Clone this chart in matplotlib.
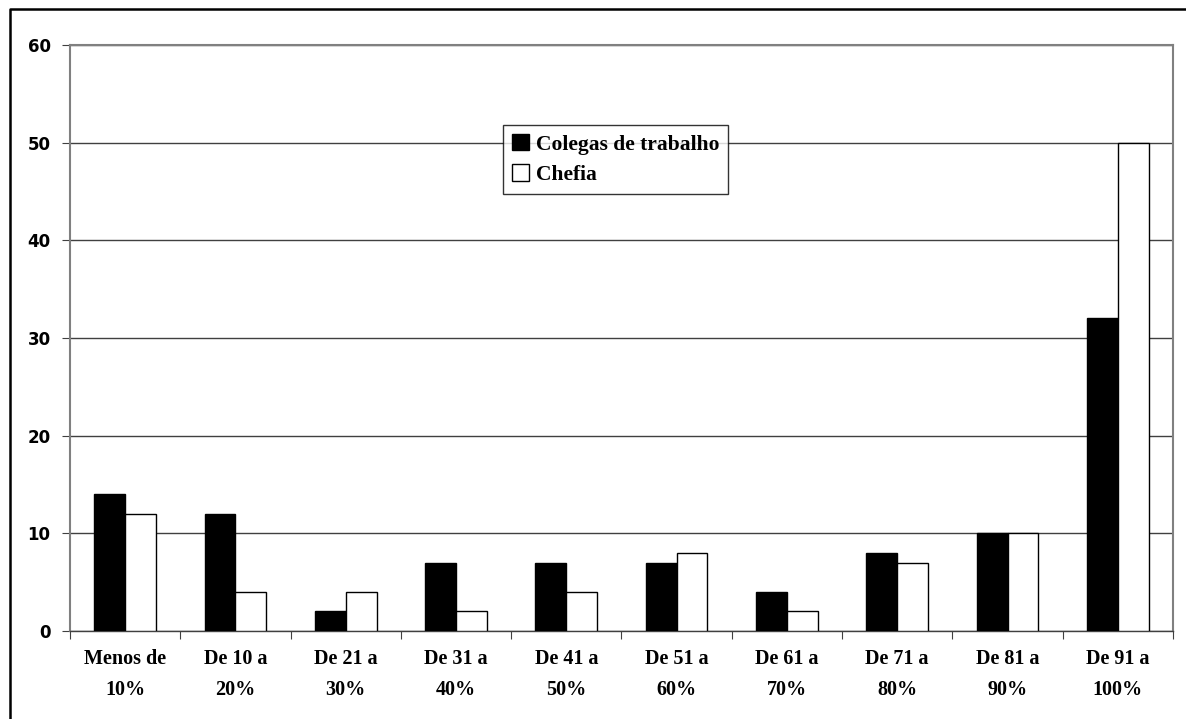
import numpy as np
import matplotlib.pyplot as plt
from matplotlib.lines import Line2D

# Dados do gráfico
categorias = ['Menos de\n10%', 'De 10 a\n20%', 'De 21 a\n30%', 'De 31 a\n40%',
              'De 41 a\n50%', 'De 51 a\n60%', 'De 61 a\n70%', 'De 71 a\n80%',
              'De 81 a\n90%', 'De 91 a\n100%']
colegas = [14, 12, 2, 7, 7, 7, 4, 8, 10, 32]
chefia = [12, 4, 4, 2, 4, 8, 2, 7, 10, 50]

fig = plt.figure(figsize=(11.86, 7.19), dpi=100)
ax = fig.add_axes([0.059, 0.1224, 0.93, 0.815])

x = np.arange(len(categorias))
w = 0.28
ax.bar(x - w / 2, colegas, w, color='black', edgecolor='black', linewidth=1,
       label='Colegas de trabalho', zorder=3)
ax.bar(x + w / 2, chefia, w, color='white', edgecolor='black', linewidth=1,
       label='Chefia', zorder=3)

ax.set_xlim(-0.5, len(categorias) - 0.5)
ax.set_ylim(0, 60)
ax.set_yticks(range(0, 61, 10))
ax.yaxis.grid(True, color='#404040', linewidth=1, zorder=0)

# ticks do eixo x nas fronteiras das categorias
ax.set_xticks(np.arange(-0.5, len(categorias), 1.0))
ax.set_xticklabels([])
ax.set_xticks(x, minor=True)
ax.set_xticklabels(categorias, minor=True, fontfamily='Liberation Serif',
                   fontweight='bold', fontsize=14.5, linespacing=1.75)
ax.tick_params(axis='x', which='major', direction='out', length=6,
               color='#404040')
ax.tick_params(axis='x', which='minor', length=0, pad=13)
ax.tick_params(axis='y', direction='out', length=6, color='#404040', pad=8)
for lbl in ax.get_yticklabels():
    lbl.set_fontfamily('DejaVu Sans')
    lbl.set_fontweight('bold')
    lbl.set_fontsize(12)

for s in ['left', 'right', 'top']:
    ax.spines[s].set_color('#808080')
    ax.spines[s].set_linewidth(1.5)
ax.spines['bottom'].set_color('#404040')
ax.spines['bottom'].set_linewidth(1)

leg = ax.legend(loc='upper left', bbox_to_anchor=(0.393, 0.863),
                borderaxespad=0, frameon=True, fancybox=False,
                edgecolor='black', handlelength=0.8, handleheight=0.8,
                handletextpad=0.3, borderpad=0.4, labelspacing=0.45,
                prop={'family': 'Liberation Serif', 'weight': 'bold', 'size': 15.5})
leg.get_frame().set_linewidth(1)
leg.set_zorder(5)

# moldura exterior (só topo e esquerda visíveis)
fx = 10 / 1186
fy = 1 - 9 / 719
fig.add_artist(Line2D([fx, fx, 1.0], [0.0, fy, fy], transform=fig.transFigure,
                      color='black', linewidth=1.8))

plt.savefig('out.png', dpi=100)
